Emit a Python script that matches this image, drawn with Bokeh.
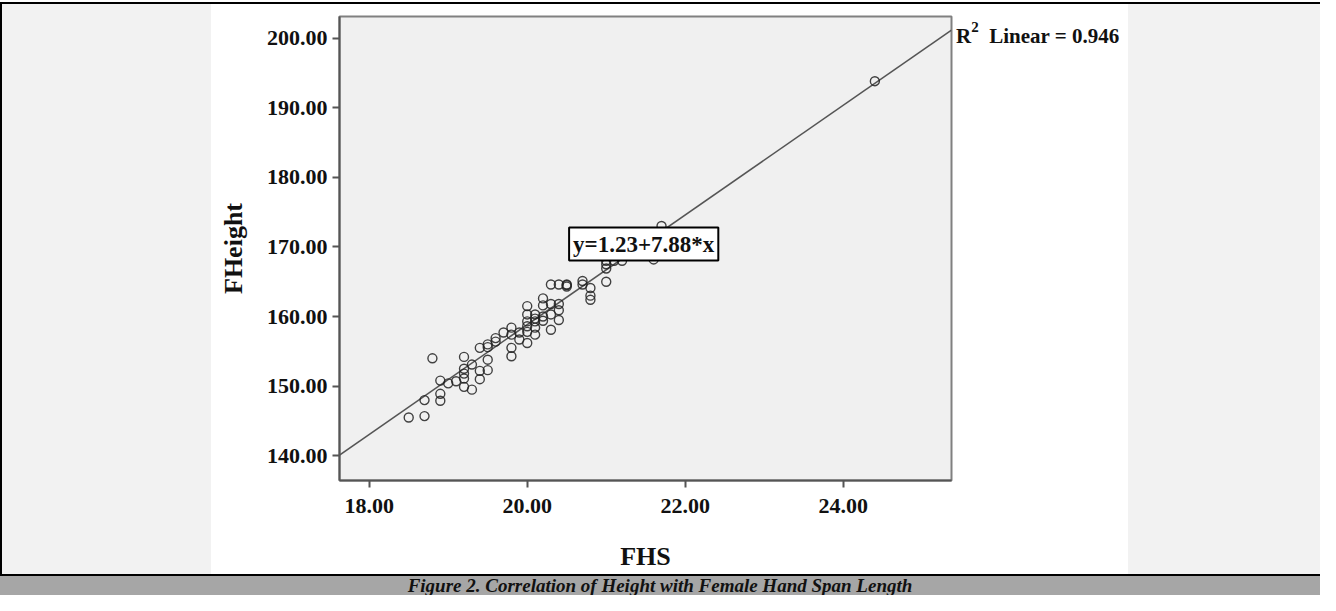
from bokeh.plotting import figure
from bokeh.models import Range1d, FixedTicker, NumeralTickFormatter, Label, Div
from bokeh.layouts import row, column
from bokeh.embed import file_html
from bokeh.resources import INLINE

# ---- data ----
fhs = [18.5, 18.7, 18.7, 18.8, 18.9, 18.9, 18.9, 19.0, 19.1,
       19.2, 19.2, 19.2, 19.2, 19.2, 19.3, 19.3, 19.4, 19.4, 19.4,
       19.5, 19.5, 19.5, 19.5, 19.6, 19.6, 19.7, 19.8, 19.8, 19.8, 19.8,
       19.9, 19.9, 20.0, 20.0, 20.0, 20.0, 20.0, 20.0,
       20.1, 20.1, 20.1, 20.1, 20.1, 20.2, 20.2, 20.2, 20.2,
       20.3, 20.3, 20.3, 20.3, 20.4, 20.4, 20.4, 20.4,
       20.5, 20.5, 20.5, 20.7, 20.7, 20.8, 20.8, 20.8,
       21.0, 21.0, 21.0, 21.0, 21.1, 21.2, 21.6, 21.7, 24.4]
fheight = [145.5, 145.7, 148.0, 154.0, 148.9, 147.9, 150.8, 150.4, 150.7,
           154.2, 152.5, 151.8, 151.1, 149.9, 149.5, 153.1, 151.0, 152.2, 155.5,
           155.6, 156.0, 153.8, 152.3, 156.4, 156.9, 157.7, 158.4, 157.4, 155.5, 154.3,
           156.7, 157.7, 161.5, 160.3, 159.3, 158.6, 157.8, 156.2,
           160.3, 159.3, 158.4, 157.4, 159.7, 162.6, 161.6, 160.0, 159.4,
           164.6, 161.8, 160.3, 158.1, 164.6, 161.8, 159.5, 160.9,
           164.6, 164.3, 164.5, 165.1, 164.6, 164.1, 163.0, 162.4,
           165.0, 167.5, 166.9, 168.0, 168.0, 168.0, 168.2, 173.0, 193.8]
intercept = 1.23
slope = 7.88
x_ticks = [18, 20, 22, 24]
y_ticks = [140, 150, 160, 170, 180, 190, 200]
x_label = "FHS"
y_label = "FHeight"
equation_text = "y=1.23+7.88*x"
r2_value = "0.946"
caption = "Figure 2. Correlation of Height with Female Hand Span Length"

X0, X1 = 17.624, 25.37
Y0, Y1 = 136.45, 203.09
SERIF = "Liberation Serif"

p = figure(width=744, height=570, output_backend="svg", toolbar_location=None,
           x_range=Range1d(X0, X1), y_range=Range1d(Y0, Y1),
           min_border_left=128, min_border_right=4,
           min_border_top=12, min_border_bottom=94)
p.background_fill_color = "#f0f0f0"
p.border_fill_color = "white"
p.outline_line_color = "#808080"
p.outline_line_width = 2
p.xgrid.visible = False
p.ygrid.visible = False

for ax in (p.xaxis[0], p.yaxis[0]):
    ax.major_label_text_font = SERIF
    ax.major_label_text_font_style = "bold"
    ax.major_label_text_font_size = "22px"
    ax.major_label_text_color = "#111111"
    ax.axis_label_text_font = SERIF
    ax.axis_label_text_font_style = "bold"
    ax.axis_label_text_font_size = "26px"
    ax.axis_label_text_color = "#111111"
    ax.axis_line_color = "#555555"
    ax.axis_line_width = 2
    ax.major_tick_line_color = "#555555"
    ax.major_tick_line_width = 2
    ax.major_tick_out = 7
    ax.major_tick_in = 0
    ax.minor_tick_out = 0
    ax.minor_tick_in = 0
    ax.formatter = NumeralTickFormatter(format="0.00")

p.xaxis.ticker = FixedTicker(ticks=x_ticks)
p.yaxis.ticker = FixedTicker(ticks=y_ticks)
p.xaxis.axis_label = x_label
p.yaxis.axis_label = y_label
p.xaxis.major_label_standoff = 11
p.yaxis.major_label_standoff = 5
p.xaxis.axis_label_standoff = 26
p.yaxis.axis_label_standoff = 16

# fit line across the full x range
p.line([X0, X1], [intercept + slope * X0, intercept + slope * X1],
       line_color="#555555", line_width=1.6)

p.scatter(fhs, fheight, marker="circle", size=9, fill_color=None,
          line_color="#222222", line_width=1.4, line_alpha=0.85)

p.add_layout(Label(x=20.53, y=170.4, text=equation_text, text_font=SERIF,
                   text_font_style="bold", text_font_size="23px",
                   text_color="#111111", text_baseline="middle",
                   text_align="left", background_fill_color="white",
                   border_line_color="black", border_line_width=2, padding=4))


def box(w, h, color, text="", extra=None):
    st = {"background-color": color, "margin": "0", "padding": "0"}
    if extra:
        st.update(extra)
    return Div(text=text, width=w, height=h, styles=st)


r2_html = ('<div style="padding-top:19px;padding-left:1px;white-space:nowrap;'
           'font-family:\'Liberation Serif\';font-weight:bold;font-size:21px;'
           'line-height:26px;color:#111">R<sup style="font-size:15px;line-height:0;'
           'vertical-align:11px">2</sup>&nbsp;&nbsp;Linear = ' + r2_value + '</div>')

spacer = box(1320, 2, "white")
top_line = box(1320, 2, "black")
left_line = box(2, 570, "black")
left_gray = box(209, 570, "#f2f2f2")
r2_panel = box(173, 570, "white", r2_html)
right_gray = box(192, 570, "#f2f2f2")
bottom_line = box(1320, 2, "black")
cap = box(1320, 19, "#a6a6a6", caption,
          {"text-align": "center", "font-family": SERIF, "font-style": "italic",
           "font-weight": "bold", "font-size": "19px", "line-height": "19px",
           "color": "#111111", "overflow": "hidden"})

layout = column(spacer, top_line,
                row(left_line, left_gray, p, r2_panel, right_gray, spacing=0),
                bottom_line, cap, spacing=0)

open("out.html", "w").write(file_html(layout, INLINE))
